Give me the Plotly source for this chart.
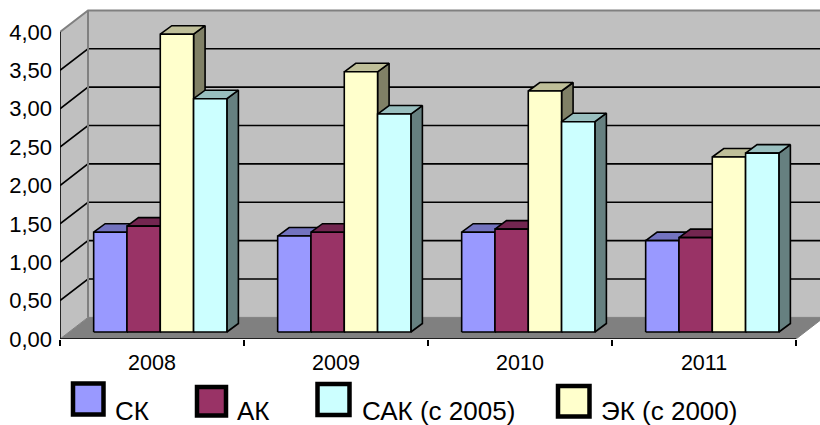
import plotly.graph_objects as go

years = ["2008", "2009", "2010", "2011"]
sk = [1.30, 1.25, 1.30, 1.19]
ak = [1.38, 1.30, 1.34, 1.23]
ek = [3.88, 3.39, 3.14, 2.28]
sak = [3.04, 2.84, 2.74, 2.33]
y_ticks = [0, 0.5, 1, 1.5, 2, 2.5, 3, 3.5, 4]

# bar order, front/top/side colours
bar_series = [
    (sk, "#9999FF", "#7373BF", "#4D4D80", "СК"),
    (ak, "#993366", "#732650", "#4D1933", "АК"),
    (ek, "#FFFFCC", "#BFBF99", "#808066", "ЭК (с 2000)"),
    (sak, "#CCFFFF", "#99BFBF", "#668080", "САК (с 2005)"),
]

L, B, W, H = 60, 86, 820, 425
PX_X = 184.0   # px per category
PX_Y = 76.75   # px per unit
dx_wall, dy_wall = 28 / PX_X, 21.6 / PX_Y
dx_base, dy_base = 9 / PX_X, 7 / PX_Y
dx_bar, dy_bar = 11.5 / PX_X, 8.5 / PX_Y
bar_start = 0.183
bar_w = 0.181
ymax = 339 / PX_Y
xmax = (W - L) / PX_X
INK = "#000000"
LW = 1.6


def poly(xs, ys, fill, line=INK, width=LW):
    return go.Scatter(x=xs + xs[:1], y=ys + ys[:1], mode="lines", fill="toself",
                      fillcolor=fill, line=dict(color=line, width=width),
                      hoverinfo="skip", showlegend=False)


def seg(xs, ys, color, width=LW, clip=True):
    return go.Scatter(x=xs, y=ys, mode="lines", line=dict(color=color, width=width),
                      hoverinfo="skip", showlegend=False, cliponaxis=clip)


fig = go.Figure()
n = len(years)
top = y_ticks[-1]
# walls and floor
fig.add_trace(poly([dx_wall, n + dx_wall, n + dx_wall, dx_wall],
                   [dy_wall, dy_wall, top + dy_wall, top + dy_wall], "#C0C0C0", "#C0C0C0", 0))
fig.add_trace(poly([0, dx_wall, dx_wall, 0], [0, dy_wall, top + dy_wall, top], "#C0C0C0", "#C0C0C0", 0))
for t in y_ticks[1:-1]:
    fig.add_trace(seg([0, dx_wall, n + dx_wall], [t, t + dy_wall, t + dy_wall], INK))
fig.add_trace(seg([dx_wall, dx_wall], [dy_wall, top + dy_wall], "#808080", 2))
fig.add_trace(seg([0, dx_wall, n + dx_wall], [top, top + dy_wall, top + dy_wall], "#808080", 2))
fig.add_trace(poly([0, dx_wall, n + dx_wall, n], [0, dy_wall, dy_wall, 0], "#808080", "#808080", 1))

# bars: left to right so each one covers the side of the previous
for c in range(n):
    for s, (vals, front, topc, side, _) in enumerate(bar_series):
        x0 = c + bar_start + s * bar_w
        x1 = x0 + bar_w
        y0 = dy_base
        y1 = dy_base + vals[c]
        fig.add_trace(poly([x1, x1 + dx_bar, x1 + dx_bar, x1],
                           [y0, y0 + dy_bar, y1 + dy_bar, y1], side))
        fig.add_trace(poly([x0, x1, x1 + dx_bar, x0 + dx_bar],
                           [y1, y1, y1 + dy_bar, y1 + dy_bar], topc))
        fig.add_trace(poly([x0, x1, x1, x0], [y0, y0, y1, y1], front))

# axis lines
fig.add_trace(seg([0, 0], [0, top], INK, LW, False))
fig.add_trace(seg([0, n], [0, 0], INK, LW, False))


def pxx(p):
    return (p - L) / (W - L)


def pxy(p):
    return (339 - p) / 339


legend_items = [
    ("СК", "#9999FF", 73, 103.5, 383.5, 414.5, 113),
    ("АК", "#993366", 197, 226, 387, 415.5, 235),
    ("САК (с 2005)", "#CCFFFF", 317.5, 349.5, 384, 415, 360),
    ("ЭК (с 2000)", "#FFFFCC", 558, 589.5, 386, 416.5, 599),
]
shapes, annos = [], []
for label, col, a, b, c, d, tx in legend_items:
    shapes.append(dict(type="rect", xref="paper", yref="paper", x0=pxx(a), x1=pxx(b),
                       y0=pxy(d), y1=pxy(c), fillcolor=col, line=dict(color=INK, width=4.5)))
    annos.append(dict(text=label, xref="paper", yref="paper", x=pxx(tx), y=pxy(411),
                      xanchor="left", yanchor="middle", showarrow=False,
                      font=dict(family="Liberation Sans", size=26, color="#000000")))

fig.update_layout(
    width=W, height=H, margin=dict(l=L, r=0, t=0, b=B),
    paper_bgcolor="white", plot_bgcolor="white", showlegend=False,
    hovermode=False, shapes=shapes, annotations=annos, separators=", ",
    font=dict(family="Liberation Sans", color="#000000"),
    xaxis=dict(range=[0, xmax], tickmode="array",
               tickvals=[i + 0.5 for i in range(n)], ticktext=years, ticks="",
               showgrid=False, zeroline=False, showline=False,
               tickfont=dict(size=21.5), ticklabelstandoff=8,
               minor=dict(tickmode="array", tickvals=list(range(n + 1)), ticks="outside",
                          ticklen=6, tickwidth=LW, tickcolor=INK, showgrid=False)),
    yaxis=dict(range=[0, ymax], tickmode="array", tickvals=y_ticks, tickformat=".2f",
               ticks="", ticklabelstandoff=7,
               showgrid=False, zeroline=False, showline=False, tickfont=dict(size=22)),
)
fig.write_html("out.html", config=dict(displayModeBar=False),
               post_script="document.body.style.margin='0';document.body.style.overflow='hidden';")
